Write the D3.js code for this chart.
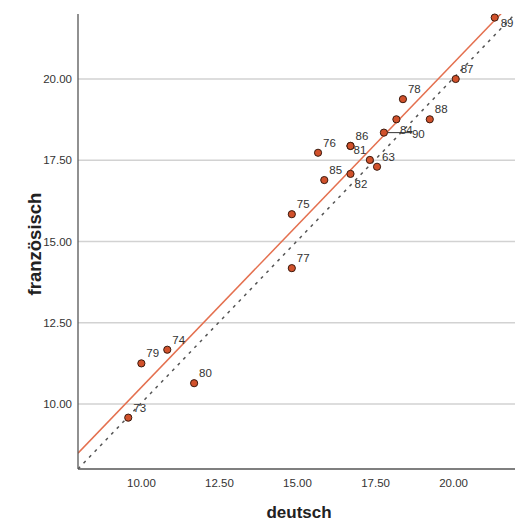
<!DOCTYPE html>
<html>
<head>
<meta charset="utf-8">
<title>deutsch / französisch</title>
<script src="https://d3js.org/d3.v7.min.js"></script>
<style>
  body { margin: 0; background: #fff; }
  svg text { font-family: "Liberation Sans", Arial, sans-serif; }
</style>
</head>
<body>
<svg id="chart" width="515" height="523"></svg>
<script>
// case labels ("" = unlabeled point), deutsch and französisch scores
const ids     = ["73", "79", "74", "80", "77", "75", "85", "76", "86", "81", "82", "", "63", "84", "90", "78", "88", "87", "89"];
const deutsch = [9.61, 10.03, 10.86, 11.72, 14.85, 14.85, 15.89, 15.69, 16.73, 16.73, 16.73, 17.35, 17.58, 17.80, 18.20, 18.41, 19.27, 20.10, 21.35];
const franz   = [9.58, 11.25, 11.67, 10.64, 14.18, 15.84, 16.89, 17.73, 17.94, 17.94, 17.08, 17.51, 17.30, 18.35, 18.76, 19.38, 18.76, 20.00, 21.89];
const ticks = [10, 12.5, 15, 17.5, 20];

const svg = d3.select("#chart");
const pLeft = 78, pRight = 515, pTop = 14, pBottom = 469;

const x = d3.scaleLinear().domain([8, 22]).range([pLeft, pRight]);
const y = d3.scaleLinear().domain([8, 22]).range([pBottom, pTop]);

// clip for lines
svg.append("clipPath").attr("id", "plot")
  .append("rect").attr("x", pLeft).attr("y", pTop).attr("width", pRight - pLeft).attr("height", pBottom - pTop);

// gridlines
svg.append("g").selectAll("line").data(ticks).join("line")
  .attr("x1", pLeft).attr("x2", pRight)
  .attr("y1", d => y(d)).attr("y2", d => y(d))
  .attr("stroke", "#d2d2d2").attr("stroke-width", 1.3);

// y axis labels
svg.append("g").selectAll("text").data(ticks).join("text")
  .attr("x", 72).attr("y", d => y(d)).attr("dy", "0.35em")
  .attr("text-anchor", "end").attr("font-size", "11.5px").attr("fill", "#333")
  .text(d => d3.format(".2f")(d));

// x axis labels
svg.append("g").selectAll("text").data(ticks).join("text")
  .attr("x", d => x(d) + 1).attr("y", 487)
  .attr("text-anchor", "middle").attr("font-size", "11.5px").attr("fill", "#333")
  .text(d => d3.format(".2f")(d));

// reference line y = x
svg.append("line")
  .attr("clip-path", "url(#plot)")
  .attr("x1", x(8)).attr("y1", y(8)).attr("x2", x(22)).attr("y2", y(22))
  .attr("stroke", "#555").attr("stroke-width", 1.5).attr("stroke-dasharray", "3,5");

// least squares fit
const mx = d3.mean(deutsch), my = d3.mean(franz);
const sxy = d3.sum(deutsch, (d, i) => (d - mx) * (franz[i] - my));
const sxx = d3.sum(deutsch, d => (d - mx) * (d - mx));
const slope = sxy / sxx, icpt = my - slope * mx;
svg.append("line")
  .attr("clip-path", "url(#plot)")
  .attr("x1", x(8)).attr("y1", y(icpt + slope * 8))
  .attr("x2", x(22)).attr("y2", y(icpt + slope * 22))
  .attr("stroke", "#e4704f").attr("stroke-width", 1.5);

// axes
svg.append("line").attr("x1", pLeft).attr("x2", pLeft).attr("y1", pTop).attr("y2", pBottom)
  .attr("stroke", "#555").attr("stroke-width", 1.3);
svg.append("line").attr("x1", pLeft).attr("x2", pRight).attr("y1", pBottom).attr("y2", pBottom)
  .attr("stroke", "#555").attr("stroke-width", 1.3);

// label offsets (default dx 5, dy -6)
const offs = { "81": [3, 8], "82": [4, 14], "84": [16, 1.5], "90": [15.5, 18.7], "89": [6, 9] };

// leader line for 84
const i84 = ids.indexOf("84");
svg.append("line")
  .attr("x1", x(deutsch[i84]) + 4).attr("x2", x(deutsch[i84]) + 28)
  .attr("y1", y(franz[i84])).attr("y2", y(franz[i84]))
  .attr("stroke", "#333").attr("stroke-width", 1);

// points
svg.append("g").selectAll("circle").data(ids).join("circle")
  .attr("cx", (d, i) => x(deutsch[i])).attr("cy", (d, i) => y(franz[i]))
  .attr("r", 3.6)
  .attr("fill", "#d1512b").attr("stroke", "#3b1a0e").attr("stroke-width", 1);

// point labels
svg.append("g").selectAll("text").data(ids).join("text")
  .attr("x", (d, i) => x(deutsch[i]) + (offs[d] ? offs[d][0] : 5))
  .attr("y", (d, i) => y(franz[i]) + (offs[d] ? offs[d][1] : -6))
  .attr("font-size", "11.5px").attr("fill", "#333")
  .text(d => d);

// axis titles
svg.append("text").attr("x", 299).attr("y", 518)
  .attr("text-anchor", "middle").attr("font-size", "17px").attr("font-weight", "bold").attr("fill", "#222")
  .text("deutsch");
svg.append("text")
  .attr("transform", "translate(41,244) rotate(-90)")
  .attr("text-anchor", "middle").attr("font-size", "18.5px").attr("font-weight", "bold").attr("fill", "#222")
  .text("französisch");
</script>
</body>
</html>
